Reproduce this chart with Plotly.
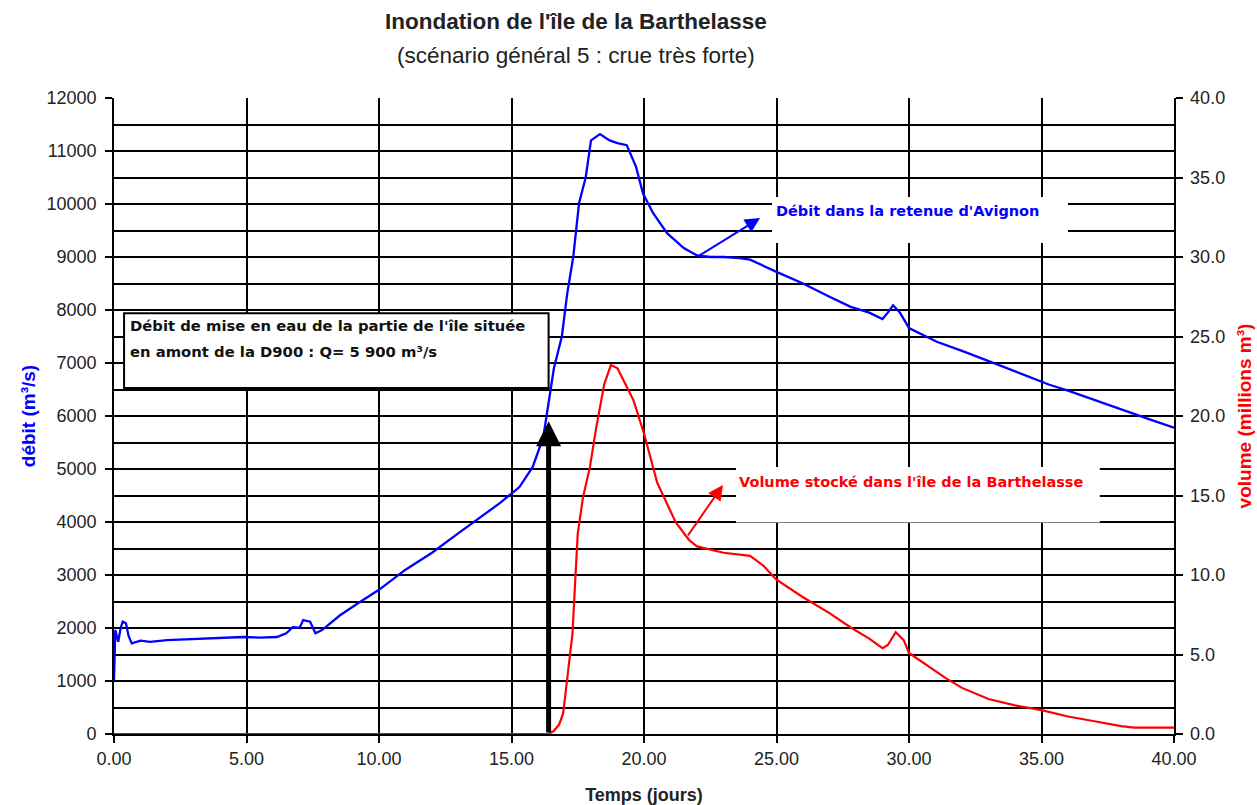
import plotly.graph_objects as go

# Débit (m3/s) - left axis
t_debit = [0, 0.05, 0.16, 0.25, 0.33, 0.45, 0.55, 0.67, 1.0, 1.36, 2.0, 2.5, 3.25, 4.0, 4.87, 5.5,
           6.15, 6.5, 6.76, 7.0, 7.14, 7.4, 7.6, 7.85, 8.2, 8.53, 9.28, 10.0, 11.0, 12.0, 13.0, 14.0,
           14.57, 15.3, 15.8, 16.2, 16.4, 16.6, 16.9, 17.1, 17.33, 17.55, 17.8, 18.0, 18.34, 18.7,
           19.0, 19.35, 19.7, 19.96, 20.34, 20.87, 21.5, 22.0, 22.5, 23.0, 23.6, 24.0, 25.0, 26.0,
           27.0, 27.8, 28.5, 29.0, 29.2, 29.4, 29.66, 30.0, 31.05, 32.0, 33.4, 35.3, 36.0, 37.0,
           38.0, 39.0, 40.0]
debit = [1020, 1960, 1740, 2000, 2120, 2090, 1850, 1710, 1760, 1740, 1770, 1780, 1800, 1810, 1830, 1820,
         1830, 1900, 2020, 2000, 2150, 2120, 1900, 1960, 2100, 2240, 2490, 2720, 3100, 3420, 3790, 4150,
         4360, 4660, 5040, 5600, 6300, 6900, 7500, 8300, 9000, 10020, 10500, 11200, 11320, 11200,
         11150, 11110, 10700, 10200, 9830, 9450, 9170, 9030, 9000, 9000, 8980, 8950, 8720, 8500,
         8250, 8060, 7950, 7830, 7950, 8090, 7950, 7660, 7400, 7230, 6960, 6590, 6480, 6300,
         6120, 5950, 5780]

# Volume stocké (millions m3) - right axis
t_volume = [0, 16.4, 16.6, 16.8, 16.95, 17.1, 17.3, 17.4, 17.5, 17.7, 17.96, 18.2, 18.5, 18.75, 19.0,
            19.3, 19.6, 20.0, 20.5, 21.2, 21.7, 22.0, 23.0, 24.0, 24.5, 25.0, 26.0, 27.0, 27.8, 28.5,
            29.0, 29.2, 29.5, 29.8, 30.0, 31.4, 32.0, 33.0, 34.0, 35.0, 36.0, 37.0, 38.0, 38.5, 40.0]
volume = [0, 0, 0.2, 0.6, 1.3, 3.4, 6.3, 9.5, 12.6, 14.9, 16.8, 19.3, 22.0, 23.2, 23.0,
          22.0, 21.0, 18.9, 15.8, 13.3, 12.2, 11.8, 11.4, 11.2, 10.6, 9.7, 8.6, 7.6, 6.7, 6.0,
          5.4, 5.6, 6.4, 5.9, 5.1, 3.5, 2.9, 2.2, 1.8, 1.5, 1.1, 0.8, 0.5, 0.4, 0.4]

x_ticks = [0, 5, 10, 15, 20, 25, 30, 35, 40]
q_seuil = 5900
t_seuil = 16.4

BLUE = "#0000ff"
RED = "#ff0000"
TICKC = "#222222"
FONT = "Liberation Sans, Arial, sans-serif"
AFONT = "DejaVu Sans, Verdana, sans-serif"
GW = 1.8

fig = go.Figure()
fig.add_trace(go.Scatter(x=t_debit, y=debit, mode="lines", line=dict(color=BLUE, width=2.3),
                         name="Débit", yaxis="y"))
fig.add_trace(go.Scatter(x=t_volume, y=volume, mode="lines", line=dict(color=RED, width=2.2),
                         name="Volume", yaxis="y2"))

fig.update_layout(
    width=1257, height=805,
    margin=dict(l=114, r=83, t=98, b=71),
    plot_bgcolor="white", paper_bgcolor="white",
    showlegend=False,
    font=dict(family=FONT, size=18, color=TICKC),
    xaxis=dict(range=[0, 40], tickvals=x_ticks, tickformat=".2f", showgrid=True,
               gridcolor="black", gridwidth=GW, showline=True, linecolor="black", linewidth=GW,
               ticks="outside", ticklen=7, tickcolor="black", tickwidth=GW, zeroline=False,
               layer="below traces", automargin=False, tickfont=dict(size=18, color=TICKC),
               title=dict(text="<b>Temps (jours)</b>", font=dict(size=18, color=TICKC), standoff=24)),
    yaxis=dict(range=[0, 12000], dtick=1000, tickformat="d", ticksuffix=" ", showgrid=True,
               gridcolor="black", gridwidth=GW,
               minor=dict(dtick=500, showgrid=True, gridcolor="black", gridwidth=GW),
               showline=True, linecolor="black", linewidth=GW, ticks="outside", ticklen=7,
               tickcolor="black", tickwidth=GW, zeroline=False, layer="below traces",
               automargin=False, tickfont=dict(size=18, color=TICKC),
               title=dict(text="<b>débit (m³/s)</b>", font=dict(size=19, color=BLUE), standoff=6)),
    yaxis2=dict(range=[0, 40], dtick=5, tickformat=".1f", tickprefix="\u2009", overlaying="y",
                side="right", showgrid=False, showline=True, linecolor="black", linewidth=GW,
                ticks="outside", ticklen=7, tickcolor="black", tickwidth=GW, zeroline=False,
                layer="below traces", automargin=False, tickfont=dict(size=18, color=TICKC),
                title=dict(text="<b>volume (millions m³)</b>", font=dict(size=19, color=RED), standoff=14)),
)

# Titles
fig.add_annotation(text="<b>Inondation de l'île de la Barthelasse</b>", xref="paper", yref="paper",
                   x=0.436, y=1.1195, yanchor="middle", showarrow=False,
                   font=dict(size=22.5, color="#222222", family=FONT))
fig.add_annotation(text="(scénario général 5 : crue très forte)", xref="paper", yref="paper",
                   x=0.436, y=1.0676, yanchor="middle", showarrow=False,
                   font=dict(size=22.5, color="#222222", family=FONT))

# Boxes
fig.add_shape(type="rect", xref="x", yref="y", x0=0.38, x1=16.4, y0=6530, y1=7940,
              fillcolor="white", line=dict(color="black", width=2), layer="above")
fig.add_shape(type="rect", xref="x", yref="y", x0=24.83, x1=36.0, y0=9264, y1=10132,
              fillcolor="white", line=dict(width=0), layer="above")
fig.add_shape(type="rect", xref="x", yref="y2", x0=23.47, x1=37.2, y0=13.3, y1=16.8,
              fillcolor="white", line=dict(width=0), layer="above")

fig.add_annotation(text="<b>Débit de mise en eau de la partie de l'île située</b>", xref="x", yref="y",
                   x=0.53, y=7717, xanchor="left", yanchor="middle", showarrow=False,
                   font=dict(size=14.8, color="#111111", family=AFONT))
fig.add_annotation(text="<b>en amont de la D900 : Q= 5 900 m³/s</b>", xref="x", yref="y",
                   x=0.53, y=7208, xanchor="left", yanchor="middle", showarrow=False,
                   font=dict(size=14.8, color="#111111", family=AFONT))

fig.add_annotation(text="<b>Débit dans la retenue d'Avignon</b>", xref="x", yref="y",
                   x=29.96, y=9868, yanchor="middle", showarrow=False,
                   font=dict(size=14.5, color=BLUE, family=AFONT))
fig.add_annotation(text="<b>Volume stocké dans l'île de la Barthelasse</b>", xref="x", yref="y2",
                   x=30.08, y=15.85, yanchor="middle", showarrow=False,
                   font=dict(size=14.5, color=RED, family=AFONT))

# Arrows
fig.add_annotation(text="", xref="x", yref="y", axref="x", ayref="y",
                   x=t_seuil, y=q_seuil, ax=t_seuil, ay=0, showarrow=True,
                   arrowhead=2, arrowsize=1, arrowwidth=5, arrowcolor="black")
fig.add_annotation(text="", xref="x", yref="y", axref="x", ayref="y",
                   x=24.38, y=9736, ax=22.0, ay=9000, showarrow=True,
                   arrowhead=2, arrowsize=1.5, arrowwidth=2, arrowcolor=BLUE)
fig.add_annotation(text="", xref="x", yref="y2", axref="x", ayref="y2",
                   x=22.98, y=15.66, ax=21.62, ay=12.4, showarrow=True,
                   arrowhead=2, arrowsize=1.5, arrowwidth=2, arrowcolor=RED)

fig.write_html("out.html", config={"displayModeBar": False},
               post_script="document.body.style.margin='0';")
